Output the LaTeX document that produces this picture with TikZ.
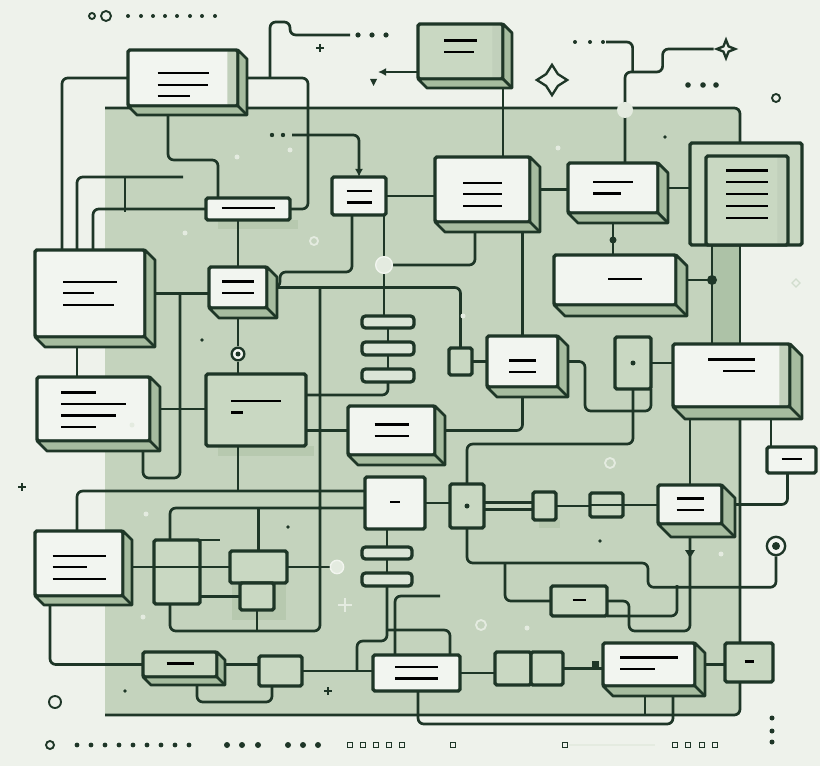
\documentclass[tikz,border=0pt]{standalone}
\usepackage{tikz}
\usetikzlibrary{shapes.geometric, arrows.meta, positioning, fit, backgrounds, calc}

\definecolor{ink}{HTML}{1E3627}
\definecolor{paper}{HTML}{F2F5F0}
\definecolor{leaf}{HTML}{C9D8C2}
\definecolor{shade}{HTML}{A6BC9F}
\definecolor{panelgreen}{HTML}{C4D3BD}
\definecolor{mist}{HTML}{EEF2EB}
\definecolor{glint}{HTML}{E4EBE0}

\newlength\pxu
\setlength\pxu{0.03cm}
\newcommand\hln[1]{\rule{#1\pxu}{1.9pt}}
% stacked text strokes, lowered by #1 px from the centre
\newcommand\leftrows[2][0]{\raisebox{-#1\pxu}[0pt][0pt]{\begin{tabular}{@{}l@{}}#2\end{tabular}}}
\newcommand\rightrows[2][0]{\raisebox{-#1\pxu}[0pt][0pt]{\begin{tabular}{@{}r@{}}#2\end{tabular}}}
% extruded side of a block
\newcommand\slab[2][10]{%
  \filldraw[draw=ink, fill=shade, line width=2.4pt, line join=round]
    (#2.north east) -- ++(#1,#1) -- ([shift={(#1,#1)}]#2.south east)
    -- ([shift={(#1,#1)}]#2.south west) -- (#2.south west) -- (#2.south east) -- cycle;
  \draw[ink, line width=2.4pt] (#2.south east) -- ++(#1,#1);}

\begin{document}
\begin{tikzpicture}[
    x=0.03cm, y=-0.03cm,
    card/.style={rectangle, draw=ink, fill=paper, line width=2.8pt, rounded corners=1.5pt, inner sep=0pt, outer sep=0pt, font=\fontsize{5}{9.8}\selectfont},
    tile/.style={card, fill=leaf},
    bar/.style={card, fill=leaf!55!paper, rounded corners=3pt},
    striped/.style={path picture={\fill[shade!65!paper] ([xshift=-9pt]path picture bounding box.north east) rectangle (path picture bounding box.south east);}},
    split/.style={path picture={\draw[ink, line width=2.3pt] (path picture bounding box.west) -- (path picture bounding box.east);}},
    wire/.style={draw=ink, line width=2.3pt, rounded corners=5pt},
    glow/.style={circle, fill=glint, draw=glint!50!white, line width=1.2pt, inner sep=0pt, minimum size=0.5cm},
    eye/.style={circle, fill=paper, draw=ink, line width=2pt, inner sep=0pt, minimum size=0.38cm},
    spark/.style={star, star points=4, star point ratio=0.4, shape border rotate=45, draw=ink, fill=mist, line width=2pt, inner sep=0pt}
  ]

    \useasboundingbox (0,0) rectangle (820,766);

    % Top row
    \node[card, striped, fit={(128,50) (238,106)}] (topcard) {\leftrows[7]{\hln{51}\\\hln{50}\\\hln{32}}};
    \slab[9]{topcard}
    \node[tile, striped, fit={(418,24) (503,79)}] (topgreen) {\leftrows[-5]{\hln{33}\\\hln{30}}};
    \slab[9]{topgreen}
    \node[card, fit={(206,198) (290,220)}] (slimbar) {\hln{53}};
    \node[card, fit={(332,177) (386,215)}] (tinytop) {\leftrows[1]{\hln{25}\\\hln{25}}};
    \node[card, fit={(435,157) (530,222)}] (midcard) {\leftrows[5]{\hln{39}\\\hln{39}\\\hln{39}}};
    \slab{midcard}
    \node[card, fit={(568,163) (658,213)}] (rightcard) {\leftrows{\hln{40}\\\hln{28}}};
    \slab{rightcard}
    \node[tile, fit={(690,143) (802,245)}] (docbox) {};
    \node[tile, striped, fit={(706,156) (788,245)}, font=\fontsize{5}{10.2}\selectfont] (docpage) {\leftrows[-6]{\hln{42}\\\hln{42}\\\hln{42}\\\hln{42}\\\hln{42}}};
    \node[card, fit={(554,255) (676,305)}] (widecard) {\hspace*{20\pxu}\hln{34}};
    \slab[11]{widecard}

    % Left column
    \node[card, fit={(35,250) (145,337)}] (leftbig) {\leftrows{\hln{54}\\\hln{31}\\\hln{51}}};
    \slab{leftbig}
    \node[card, fit={(209,267) (267,308)}] (smallj) {\leftrows{\hln{32}\\\hln{32}}};
    \slab{smallj}
    \node[card, fit={(37,377) (150,441)}] (leftlist) {\leftrows[1]{\hln{35}\\\hln{65}\\\hln{55}\\\hln{35}}};
    \slab{leftlist}
    \node[card, fit={(35,531) (123,596)}] (aacard) {\leftrows[4]{\hln{53}\\\hln{34}\\\hln{53}}};
    \slab[9]{aacard}

    % Middle
    \node[bar, fit={(362,316) (414,328)}] (kbar1) {};
    \node[bar, fit={(362,342) (414,355)}] (kbar2) {};
    \node[bar, fit={(362,369) (414,382)}] (kbar3) {};
    \node[tile, fit={(206,374) (306,446)}] (greenmid) {\leftrows[-3]{\hln{50}\\\hln{12}}};
    \node[card, fit={(348,406) (435,455)}] (ncard) {\leftrows{\hln{34}\\\hln{34}}};
    \slab{ncard}
    \node[card, fit={(487,336) (558,387)}] (ocard) {\leftrows[5]{\hln{27}\\\hln{27}}};
    \slab{ocard}
    \node[tile, fit={(449,348) (472,375)}] (psq) {};
    \node[tile, fit={(615,337) (651,389)}] (qtall) {};
    \node[card, striped, fit={(673,344) (790,407)}] (rcard) {\rightrows[-10]{\hln{47}\\\hln{32}}};
    \slab[12]{rcard}
    \node[card, fit={(767,447) (816,473)}] (sbox) {\hln{20}};
    \node[card, fit={(365,477) (425,529)}] (tbox) {\hln{10}};
    \node[bar, fit={(362,547) (412,559)}] (ubar1) {};
    \node[bar, fit={(362,573) (412,586)}] (ubar2) {};
    \node[tile, fit={(450,484) (484,528)}] (vsq) {};
    \node[tile, fit={(533,492) (556,520)}] (wsq) {};
    \node[tile, split, fit={(590,493) (623,517)}] (xsq) {};
    \node[card, fit={(658,485) (722,524)}] (ycard) {\leftrows{\hln{27}\\\hln{27}}};
    \slab[13]{ycard}
    \node[tile, fit={(551,586) (607,616)}] (zbox) {\hln{13}};
    \node[tile, fit={(154,540) (200,604)}] (bbgrid) {};
    \node[tile, fit={(230,551) (287,583)}] (ccbox) {};
    \node[tile, fit={(240,583) (274,610)}] (ccsub) {};

    % Bottom row
    \node[tile, fit={(143,652) (217,677)}] (ddbox) {\hln{27}};
    \slab[8]{ddbox}
    \node[tile, fit={(259,656) (302,686)}] (eebox) {};
    \node[card, fit={(373,655) (460,691)}] (ffcard) {\leftrows{\hln{43}\\\hln{43}}};
    \node[tile, fit={(495,652) (531,685)}] (ggleft) {};
    \node[tile, fit={(531,652) (563,685)}] (ggright) {};
    \node[card, fit={(603,643) (695,686)}] (hhcard) {\leftrows[-1]{\hln{58}\\\hln{35}}};
    \slab{hhcard}
    \node[tile, fit={(725,643) (773,682)}] (iibox) {\hln{9}};

    % Rings and sparks
    \node[glow] (hubring) at (384,265) {};
    \node[glow, minimum size=0.4cm] (ccring) at (337,567) {};
    \node[eye] (jring) at (238,354) {};
    \node[eye, minimum size=0.55cm] (target) at (776,546) {};
    \node[spark, minimum size=0.22cm] (spark) at (726,49) {};
    \node[spark, star point ratio=0.55, minimum size=0.5cm] (gem) at (552,80) {};
    \fill[ink] (jring) circle (2.5) (target) circle (4) (qtall) circle (2.5) (vsq) circle (2.5);
    \draw[ink, line width=2.3pt] (bbgrid.west |- ccbox.west) -- (bbgrid.east |- ccbox.west);

    % Connections
    \begin{scope}[on background layer]
      \fill[mist] (0,0) rectangle (820,766);
      \fill[panelgreen] (105,108) rectangle (740,715);
      \fill[shade!75!panelgreen] ($(docbox.south west)+(22,0)$) rectangle ($(rcard.north west)+(67,0)$);
      \fill[shade!45!panelgreen] ($(slimbar.south west)+(12,0)$) rectangle ($(slimbar.south east)+(8,9)$);
      \fill[shade!45!panelgreen] ($(ccsub.north west)+(-8,2)$) rectangle ($(ccsub.south east)+(12,10)$);
      \fill[shade!45!panelgreen] ($(greenmid.south west)+(12,0)$) rectangle ($(greenmid.south east)+(8,10)$);
      \fill[shade!45!panelgreen] ($(wsq.south west)+(6,0)$) rectangle ($(wsq.south east)+(4,8)$);
      \coordinate (rimstart) at (105,108);
      \coordinate (rimend) at (105,715);
      \draw[wire] (rimstart) -| ($(docbox.north west)+(50,0)$);
      \draw[wire] ($(rcard.south west)+(67,0)$) |- (rimend);

      \draw[wire] (topcard.west) -| ($(leftbig.north west)+(27,0)$);
      \draw[wire] (topcard.east) -- ++(70,0) |- (slimbar.east);
      \draw[wire] ($(topcard.east)+(32,0)$) |- ++(20,-56) |- ++(60,13);
      \draw[wire] ($(topcard.south west)+(40,0)$) -- ++(0,54) -| ($(slimbar.north west)+(12,0)$);
      \draw[wire] (smallj.north |- slimbar.south) -- (smallj.north);
      \coordinate (feedin) at (292,135);
      \draw[wire, -{Latex[length=7pt,width=7pt]}] (feedin) -| (tinytop.north);
      \coordinate (stubL) at (183,177);
      \draw[wire] ($(leftbig.north west)+(42,0)$) |- (stubL);
      \draw[wire] ($(stubL)+(-58,0)$) -- ++(0,35);
      \draw[wire] (slimbar.west) -| ($(leftbig.north west)+(58,0)$);
      \draw[wire] (tinytop.east) -- (tinytop.east -| midcard.west);
      \draw[wire] (midcard.east) -- (midcard.east -| rightcard.west);
      \draw[wire] (rightcard.east) -- (rightcard.east -| docbox.west);
      \draw[wire] (topgreen.south east) -- (topgreen.south east |- midcard.north);
      \coordinate (bin) at (378,72);
      \draw[wire, {Latex[length=7pt,width=7pt]}-] (bin) -- (bin -| topgreen.west);
      \draw[wire] ($(rightcard.north)+(12,0)$) |- ($(spark.west)+(-51,23)$) |- (spark.west);
      \coordinate (tick) at (606,42);
      \draw[wire] (tick) -| ($(spark.west)+(-81,23)$);
      \draw[wire] (rightcard.south) -- (rightcard.south |- widecard.north);
      \coordinate (gleft) at ($(docbox.south west)+(22,0)$);
      \coordinate (gright) at ($(docbox.south west)+(50,0)$);
      \draw[wire] (gleft) -- (gleft |- rcard.north);
      \draw[wire] (gright) -- (gright |- rcard.north);
      \draw[wire] (widecard.east) -- (widecard.east -| gleft);
      \draw[wire] (ocard.north |- midcard.south) -- (ocard.north);
      \draw[wire] ($(midcard.south west)+(40,0)$) |- (hubring.east);
      \draw[wire] (hubring.north |- tinytop.south) -- (hubring.north);
      \draw[wire] (hubring.south) -- (hubring.south |- kbar1.north);
      \draw[wire] ($(tinytop.south west)+(20,0)$) -- ++(0,57) -| ($(smallj.east)+(13,0)$) -- (smallj.east);
      \draw[wire] (leftbig.east) -- (leftbig.east -| smallj.west);
      \draw[wire] (smallj.east) -| (psq.north);
      \coordinate (tleft) at ($(tbox.south west)+(0,-21)$);
      \coordinate (tlow) at ($(bbgrid.north west)+(16,91)$);
      \draw[wire] (tleft) -| (tlow) -| ($(smallj.east)+(53,0)$);
      \draw[wire] (ccbox.north) -- (ccbox.north |- tleft);
      \draw[wire] (ccsub.south) -- (ccsub.south |- tlow);
      \draw[wire] ($(aacard.north west)+(42,0)$) |- ($(tbox.north west)+(0,14)$);
      \draw[wire] ($(greenmid.south west)+(32,0)$) -- ++(0,45);
      \draw[wire] (aacard.east |- ccbox.west) -- (bbgrid.west |- ccbox.west);
      \draw[wire] (bbgrid.east |- ccbox.west) -- (ccbox.west);
      \draw[wire] (ccsub.west) -- (ccsub.west -| bbgrid.east);
      \draw[wire] (bbgrid.north east) -- ++(20,0);
      \draw[wire] (ccbox.east) -- (ccring.west);
      \draw[wire] ($(aacard.south west)+(15,0)$) |- (ddbox.west);
      \draw[wire] (ddbox.east) -- (ddbox.east -| eebox.west);
      \draw[wire] ($(ddbox.south west)+(54,0)$) -- ++(0,25) -| ($(eebox.south west)+(13,0)$);
      \draw[wire] (eebox.east) -- (eebox.east -| ffcard.west);
      \draw[wire] (ubar2.south) -- ++(0,55) -- ++(-30,0) -- ++(0,30);
      \draw[wire] ($(ffcard.north west)+(22,0)$) |- ++(45,-59);
      \draw[wire] ($(ffcard.north east)+(-10,0)$) |- ++(-63,-25);
      \draw[wire] (ffcard.east) -- (ffcard.east -| ggleft.west);
      \draw[wire] (ggright.east) -- (ggright.east -| hhcard.west);
      \draw[wire] (hhcard.east) -- (hhcard.east -| iibox.west);
      \draw[wire] ($(ffcard.south west)+(45,0)$) -- ++(0,33) -| ($(hhcard.south east)+(-22,0)$);
      \draw[wire] ($(hhcard.south west)+(42,0)$) -- ++(0,29);
      \draw[wire] (ycard.north |- rcard.south) -- (ycard.north);
      \draw[wire] ($(sbox.north west)+(4,0)$) -- ++(0,-40);
      \draw[wire] ($(sbox.south)+(-4,0)$) |- (ycard.east);
      \draw[wire] (tbox.east) -- (tbox.east -| vsq.west);
      \draw[wire, double=leaf, double distance=3.5pt] (vsq.east) -- (vsq.east -| wsq.west);
      \draw[wire] (wsq.east) -- (wsq.east -| xsq.west);
      \draw[wire] (xsq.east) -- (xsq.east -| ycard.west);
      \draw[wire] (vsq.south) |- ++(181,35) |- ($(target.south)+(0,31)$) -- (target.south);
      \draw[wire] ($(zbox.west)+(-46,-38)$) |- (zbox.west);
      \draw[wire] (ycard.south) |- ($(zbox.east)+(22,30)$) |- (zbox.east);
      \draw[wire] (zbox.south east) -- ++(70,0) -- ++(0,-31);
      \draw[wire] (vsq.north) |- ($(qtall.south)+(0,55)$) -- (qtall.south);
      \draw[wire] (ocard.east) -- ++(27,0) |- ($(qtall.south east)+(0,22)$) -- (qtall.south east);
      \draw[wire] (ocard.south) |- (ncard.east);
      \draw[wire] (psq.east) -- (psq.east -| ocard.west);
      \draw[wire] (qtall.east) -- (qtall.east -| rcard.west);
      \draw[wire] (ncard.west) -- (ncard.west -| greenmid.east);
      \draw[wire] (kbar3.south) |- ($(greenmid.north east)+(0,21)$);
      \draw[wire] (kbar1.south) -- (kbar2.north);
      \draw[wire] (kbar2.south) -- (kbar3.north);
      \draw[wire] (leftlist.east) -- (leftlist.east -| greenmid.west);
      \draw[wire] ($(leftlist.south east)+(-7,0)$) -- ++(0,37) -| ($(leftbig.east)+(35,0)$);
      \draw[wire] ($(leftbig.south west)+(42,0)$) -- ++(0,40);
      \draw[wire] (smallj.south) -- (jring.north);
      \draw[wire] (jring.south) -- (jring.south |- greenmid.north);
      \draw[wire] (ubar1.north |- tbox.south) -- (ubar1.north);
      \draw[wire] (ubar1.south) -- (ubar2.north);
    \end{scope}

    % Markers on the wires
    \fill[ink] (gleft |- widecard.east) circle (5);
    \fill[ink] ($(rightcard.south)+(0,27)$) circle (3.5);
    \fill[glint] (625,110) circle (8);
    \fill[ink] ($(hhcard.west)+(-8,0)$) +(-3.5,-3.5) rectangle +(3.5,3.5);
    \fill[ink] ($(ycard.south)+(-5,26)$) -- ++(10,0) -- ++(-5,8) -- cycle;
    \fill[ink] (370,79) -- (377,79) -- (373.5,86) -- cycle;
    \foreach \x in {272,283} \fill[ink] (\x,135) circle (2.2);

    % Loose ornaments
    \draw[ink, line width=1.6pt] (92,16) circle (3) (106,16) circle (5);
    \foreach \x in {128,141,153,165,177,190,202,215} \fill[ink] (\x,16) circle (2);
    \foreach \x in {358,372,386} \fill[ink] (\x,35) circle (2.6);
    \foreach \x in {575,590,603} \fill[ink] (\x,42) circle (2);
    \foreach \x in {688,703,716} \fill[ink] (\x,85) circle (2.8);
    \draw[ink, line width=1.6pt] (776,98) circle (4);
    \draw[ink, line width=1.2pt] (316,48) -- (324,48) (320,44) -- (320,52);
    \draw[ink, line width=1.2pt] (18,487) -- (26,487) (22,483) -- (22,491);
    \draw[ink, line width=1.6pt] (55,702) circle (6) (50,745) circle (4);
    \foreach \x in {77,91,105,119,133,147,161,175,189} \fill[ink] (\x,745) circle (2.4);
    \foreach \x in {227,242,258,288,303,318} \fill[ink] (\x,745) circle (3);
    \foreach \x in {350,363,376,389,402,453,565,675,688,702,715} \draw[ink, line width=1pt] (\x,745) +(-2.5,-2.5) rectangle +(2.5,2.5);
    \draw[glint, line width=1pt] (569,745) -- (655,745);
    \foreach \y in {718,731,742} \fill[ink] (772,\y) circle (2.5);
    \draw[glint!70!shade, line width=1pt] (796,279) -- (800,283) -- (796,287) -- (792,283) -- cycle;
    \foreach \p in {(237,157),(185,233),(146,514),(143,617),(527,628),(721,554),(558,148),(290,150),(463,316),(132,425)} \fill[glint] \p circle (2.5);
    \draw[glint, line width=1.6pt] (314,241) circle (4) (610,463) circle (5) (481,625) circle (5);
    \draw[glint, line width=1.6pt] (338,605) -- (352,605) (345,598) -- (345,612);
    \foreach \p in {(125,691),(288,527),(202,340),(665,137),(600,541)} \fill[ink] \p circle (1.8);
    \draw[ink, line width=1.1pt] (324,691) -- (332,691) (328,687) -- (328,695);

  \end{tikzpicture}
\end{document}
